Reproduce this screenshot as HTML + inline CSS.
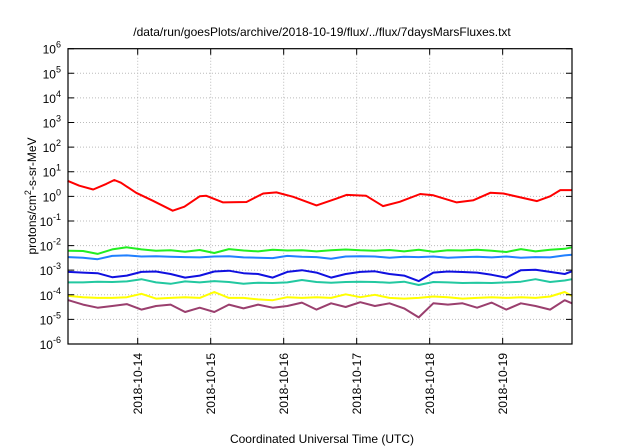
<!DOCTYPE html>
<html><head><meta charset="utf-8">
<style>
html,body{margin:0;padding:0;background:#fff;}
svg{display:block;font-family:"Liberation Sans",sans-serif;}
</style></head>
<body>
<svg id="chart" width="640" height="448" viewBox="0 0 640 448">
<text x="322" y="36" font-size="12" text-anchor="middle">/data/run/goesPlots/archive/2018-10-19/flux/../flux/7daysMarsFluxes.txt</text>
<text transform="translate(36,196) rotate(-90)" font-size="12" text-anchor="middle">protons/cm<tspan dy="-5" font-size="9">2</tspan><tspan dy="5">-s-sr-MeV</tspan></text>
<text x="322" y="443" font-size="12" text-anchor="middle">Coordinated Universal Time (UTC)</text>
<g id="grid"></g>
<g id="series"></g>
<rect x="68" y="48.7" width="504" height="295.3" fill="none" stroke="#000" stroke-width="1.2"/>
<g id="ticks"></g>
</svg>
<script>
const yExponents = [-6,-5,-4,-3,-2,-1,0,1,2,3,4,5,6];
const xTickDays = [1,2,3,4,5,6];
const xTickLabels = ["2018-10-14","2018-10-15","2018-10-16","2018-10-17","2018-10-18","2018-10-19"];
const redTimes = [0.04,0.2,0.39,0.57,0.68,0.77,0.98,1.21,1.48,1.64,1.85,1.94,2.17,2.49,2.72,2.9,3.13,3.45,3.72,3.86,4.13,4.36,4.59,4.87,5.05,5.37,5.6,5.83,6.01,6.47,6.65,6.79,6.95];
const redValues = [4.3,2.7,1.9,3.2,4.6,3.6,1.4,0.66,0.26,0.38,1.0,1.05,0.57,0.59,1.3,1.45,0.96,0.43,0.8,1.15,1.05,0.4,0.6,1.25,1.1,0.57,0.7,1.4,1.3,0.64,1.0,1.8,1.8];
const times = [0.05,0.25,0.45,0.65,0.85,1.05,1.25,1.45,1.65,1.85,2.05,2.25,2.45,2.65,2.85,3.05,3.25,3.45,3.65,3.85,4.05,4.25,4.45,4.65,4.85,5.05,5.25,5.45,5.65,5.85,6.05,6.25,6.45,6.65,6.85,6.95];
const greenValues = [6.2e-3,6e-3,4.6e-3,7e-3,8.5e-3,7e-3,6.2e-3,6.4e-3,5.6e-3,6.6e-3,5e-3,7.2e-3,6.3e-3,5.8e-3,6.8e-3,6.3e-3,6.5e-3,5.8e-3,6.4e-3,6.9e-3,6.4e-3,6.2e-3,6.6e-3,5.8e-3,6.7e-3,5.6e-3,6.4e-3,6.3e-3,6.8e-3,6.2e-3,5.5e-3,7.2e-3,5.8e-3,6.8e-3,7.4e-3,8.5e-3];
const lightBlueValues = [3.4e-3,3.2e-3,2.8e-3,3.8e-3,4e-3,3.6e-3,3.7e-3,3.5e-3,3.4e-3,3.3e-3,3.6e-3,3.7e-3,3.3e-3,3.2e-3,3.1e-3,3.8e-3,3.5e-3,3.4e-3,2.9e-3,3.6e-3,3.7e-3,3.6e-3,3.2e-3,3.5e-3,3.4e-3,3.6e-3,3.2e-3,3.4e-3,3.5e-3,3.3e-3,3.6e-3,3.2e-3,3.4e-3,3.3e-3,4e-3,4.2e-3];
const blueValues = [8.5e-4,8e-4,7.5e-4,5.2e-4,6e-4,8.5e-4,8.8e-4,7e-4,5e-4,6e-4,8.8e-4,9.5e-4,7.5e-4,7e-4,5e-4,8.5e-4,1e-3,8e-4,5e-4,7e-4,8.5e-4,9e-4,7e-4,6e-4,3.6e-4,8e-4,8.8e-4,8.4e-4,8e-4,6.5e-4,5e-4,1e-3,1.05e-3,8.5e-4,7e-4,9e-4];
const tealValues = [3.2e-4,3.2e-4,3.4e-4,3.3e-4,3.5e-4,4.3e-4,3.2e-4,2.8e-4,3.5e-4,3.2e-4,3.6e-4,3.3e-4,2.8e-4,3.1e-4,3e-4,3.2e-4,4e-4,3.3e-4,3.1e-4,3.3e-4,3.4e-4,3.3e-4,3.1e-4,3.4e-4,2.5e-4,3.3e-4,3.2e-4,3e-4,3.1e-4,3e-4,3.2e-4,3.4e-4,4.3e-4,3.3e-4,3.8e-4,4.3e-4];
const yellowValues = [9e-5,8e-5,7.5e-5,7.5e-5,8e-5,1.1e-4,7e-5,7.5e-5,8e-5,7.5e-5,1.3e-4,7.5e-5,7.5e-5,6.5e-5,6e-5,8e-5,7.5e-5,8e-5,7.5e-5,1.05e-4,8e-5,1e-4,7.5e-5,7e-5,7.5e-5,8.5e-5,8e-5,7e-5,7.5e-5,8e-5,7.5e-5,8e-5,7.5e-5,8.5e-5,1.3e-4,9e-5];
const purpleValues = [6e-5,4e-5,3e-5,3.5e-5,4.2e-5,2.5e-5,3.5e-5,4e-5,2e-5,3e-5,2e-5,4e-5,2.8e-5,4e-5,3e-5,3.5e-5,4.8e-5,2.5e-5,4.5e-5,3.2e-5,5e-5,3.5e-5,4.5e-5,2.8e-5,1.2e-5,4.5e-5,4e-5,4.5e-5,3e-5,4.8e-5,2.5e-5,4.5e-5,3.5e-5,2.5e-5,6e-5,4.5e-5];

const NS = "http://www.w3.org/2000/svg";
const L=68,R=572,T=48.7,B=344;
const tMin=0.045,tMax=6.95;
function xScale(t){return L+(t-tMin)/(tMax-tMin)*(R-L);}
function yScale(v){return B-(Math.log10(v)+6)/12*(B-T);}
function mk(tag,attrs,parent){const e=document.createElementNS(NS,tag);for(const k in attrs)e.setAttribute(k,attrs[k]);parent.appendChild(e);return e;}
const grid=document.getElementById('grid'),ticks=document.getElementById('ticks'),series=document.getElementById('series');
yExponents.forEach(e=>{
  const y=yScale(Math.pow(10,e));
  if(e>-6&&e<6){const g=mk('line',{x1:L,x2:R,y1:y,y2:y,stroke:'#bbb','stroke-width':1,'stroke-dasharray':'1,2'},grid);
  
  }
  const tk=mk('path',{d:`M${L},${y}h6M${R},${y}h-6`,stroke:'#000','stroke-width':1},ticks);
  
  
  const tx=mk('text',{x:L-7,y:y+5,'font-size':12,'text-anchor':'end'},ticks);
  
  
  tx.innerHTML=`10<tspan dy="-6" font-size="9">${e}</tspan>`;
});
xTickDays.forEach((d,i)=>{
  const x=xScale(d);
  const g=mk('line',{x1:x,x2:x,y1:T,y2:B,stroke:'#bbb','stroke-width':1,'stroke-dasharray':'1,2'},grid);
  
  
  const tk=mk('path',{d:`M${x},${B}v-6M${x},${T}v6`,stroke:'#000','stroke-width':1},ticks);
  
  
  const tx=mk('text',{transform:`translate(${x+4.5},353) rotate(-90)`,'font-size':12,'text-anchor':'end'},ticks);
  
  
  tx.textContent=xTickLabels[i];
});
function line(ts,vs,color,name){
  const d=ts.map((t,i)=>(i?'L':'M')+xScale(t).toFixed(1)+','+yScale(vs[i]).toFixed(1)).join('');
  const p=mk('path',{d:d,fill:'none',stroke:color,'stroke-width':2,'stroke-linejoin':'round'},series);
  
  
}
line(times,purpleValues,'#9a3f6e','series-purple');
line(times,yellowValues,'#ffff00','series-yellow');
line(times,tealValues,'#22c8a0','series-teal');
line(times,blueValues,'#1010e0','series-blue');
line(times,lightBlueValues,'#2080ff','series-light-blue');
line(times,greenValues,'#22ee22','series-green');
line(redTimes,redValues,'#ff0000','series-red');
</script>
</body></html>
